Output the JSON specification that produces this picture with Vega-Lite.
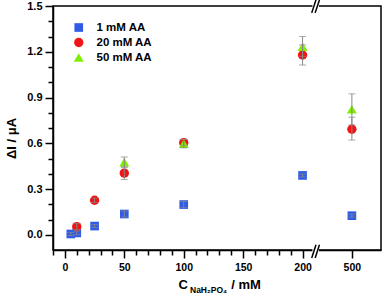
{
  "$schema": "https://vega.github.io/schema/vega-lite/v6.json",
  "width": 328,
  "height": 244,
  "autosize": "none",
  "padding": {"left": 53, "top": 6, "right": 5, "bottom": 58},
  "background": "white",
  "title": {"text": "NaH₂PO₄", "orient": "bottom", "anchor": "start", "frame": "group", "dx": 137, "dy": -5, "offset": 0, "fontSize": 8.5, "fontWeight": "bold", "font": "Liberation Sans", "color": "black"},
  "config": {
    "view": {"stroke": "black", "strokeWidth": 1.5},
    "font": "Liberation Sans",
    "axis": {"grid": false, "domainColor": "black", "domainWidth": 1.5, "tickColor": "black", "tickWidth": 1.5, "labelFont": "Liberation Sans", "labelFontWeight": "bold", "labelColor": "black", "titleColor": "black", "titleFont": "Liberation Sans", "titleFontWeight": "bold", "labelOverlap": false, "labelFlush": false}
  },
  "layer": [
    {
      "data": {"values": [
        {"series": "1 mM AA", "conc": 5, "dI": 0.005, "lo": -0.005, "hi": 0.015},
        {"series": "1 mM AA", "conc": 10, "dI": 0.012, "lo": 0.0, "hi": 0.025},
        {"series": "1 mM AA", "conc": 25, "dI": 0.057, "lo": 0.047, "hi": 0.067},
        {"series": "1 mM AA", "conc": 50, "dI": 0.136, "lo": 0.116, "hi": 0.156},
        {"series": "1 mM AA", "conc": 100, "dI": 0.198, "lo": 0.178, "hi": 0.218},
        {"series": "1 mM AA", "conc": 200, "dI": 0.389, "lo": 0.379, "hi": 0.399},
        {"series": "1 mM AA", "conc": 500, "dI": 0.125, "lo": 0.115, "hi": 0.135},
        {"series": "20 mM AA", "conc": 10, "dI": 0.053, "lo": 0.033, "hi": 0.073},
        {"series": "20 mM AA", "conc": 25, "dI": 0.226, "lo": 0.211, "hi": 0.241},
        {"series": "20 mM AA", "conc": 50, "dI": 0.404, "lo": 0.362, "hi": 0.446},
        {"series": "20 mM AA", "conc": 100, "dI": 0.604, "lo": 0.584, "hi": 0.624},
        {"series": "20 mM AA", "conc": 200, "dI": 1.179, "lo": 1.113, "hi": 1.245},
        {"series": "20 mM AA", "conc": 500, "dI": 0.692, "lo": 0.621, "hi": 0.771},
        {"series": "50 mM AA", "conc": 50, "dI": 0.476, "lo": 0.44, "hi": 0.51},
        {"series": "50 mM AA", "conc": 100, "dI": 0.598, "lo": 0.57, "hi": 0.626},
        {"series": "50 mM AA", "conc": 200, "dI": 1.234, "lo": 1.17, "hi": 1.3},
        {"series": "50 mM AA", "conc": 500, "dI": 0.823, "lo": 0.72, "hi": 0.924}
      ]},
      "transform": [{"calculate": "datum.conc == 500 ? 241.5 : datum.conc", "as": "xp"}],
      "encoding": {
        "x": {"field": "xp", "type": "quantitative",
          "scale": {"domain": [-10, 266], "nice": false, "zero": false},
          "axis": {
            "values": [-10, 0, 10, 20, 30, 40, 50, 60, 70, 80, 90, 100, 110, 120, 130, 140, 150, 160, 170, 180, 190, 200, 241.5],
            "tickCount": 100,
            "labelExpr": "datum.value > 230 ? '500' : ((datum.value >= 0 && datum.value % 50 == 0) ? datum.label : '')",
            "tickSize": {"condition": {"test": "datum.value > 230 || (datum.value >= 0 && datum.value % 50 == 0)", "value": 8}, "value": 5},
            "labelFontSize": 10.5,
            "labelPadding": 4,
            "labelOverlap": false,
            "title": "C\u00a0\u00a0\u00a0\u00a0\u00a0\u00a0\u00a0\u00a0\u00a0\u00a0\u00a0\u00a0/ mM",
            "titleFontSize": 13,
            "titleAlign": "left",
            "titleAnchor": "start",
            "titleBaseline": "top",
            "titleX": 125,
            "titleY": 28
          }
        }
      },
      "layer": [
        {
          "mark": {"type": "point", "filled": true, "opacity": 1, "strokeWidth": 0},
          "encoding": {
            "y": {"field": "dI", "type": "quantitative",
              "scale": {"domain": [-0.1, 1.5], "nice": false, "zero": false},
              "axis": {
                "values": [0, 0.1, 0.2, 0.3, 0.4, 0.5, 0.6, 0.7, 0.8, 0.9, 1.0, 1.1, 1.2, 1.3, 1.4, 1.5],
                "tickCount": 100,
                "labelExpr": "round(datum.value * 10) % 3 == 0 ? format(datum.value, '.1f') : ''",
                "tickSize": {"condition": {"test": "round(datum.value * 10) % 3 == 0", "value": 8}, "value": 5},
                "labelFontSize": 11,
                "labelPadding": 3,
                "labelOverlap": false,
                "title": "ΔI / μA",
                "titleFontSize": 13,
                "titleY": 132,
                "titlePadding": 8
              }
            },
            "color": {"field": "series", "type": "nominal",
              "scale": {"domain": ["1 mM AA", "20 mM AA", "50 mM AA"], "range": ["#2f5be6", "#f01414", "#80ee00"]},
              "legend": {"title": null, "orient": "none", "legendX": 20, "legendY": 15, "labelFontSize": 11.5, "labelFontWeight": "bold", "labelColor": "black", "labelOffset": 12, "rowPadding": 2, "clipHeight": 13, "padding": 0, "symbolStrokeWidth": 0}
            },
            "shape": {"field": "series", "type": "nominal",
              "scale": {"domain": ["1 mM AA", "20 mM AA", "50 mM AA"], "range": ["square", "circle", "triangle-up"]},
              "legend": {"title": null, "orient": "none", "legendX": 20, "legendY": 15, "labelFontSize": 11.5, "labelFontWeight": "bold", "labelColor": "black", "labelOffset": 12, "rowPadding": 2, "clipHeight": 13, "padding": 0, "symbolStrokeWidth": 0}
            },
            "size": {"field": "series", "type": "nominal",
              "scale": {"domain": ["1 mM AA", "20 mM AA", "50 mM AA"], "range": [75, 100, 170]},
              "legend": {"title": null, "orient": "none", "legendX": 20, "legendY": 15, "labelFontSize": 11.5, "labelFontWeight": "bold", "labelColor": "black", "labelOffset": 12, "rowPadding": 2, "clipHeight": 13, "padding": 0, "symbolStrokeWidth": 0}
            }
          }
        },
        {
          "mark": {"type": "errorbar", "ticks": {"size": 7, "thickness": 1, "color": "#888888"}, "rule": {"color": "#888888", "strokeWidth": 1}},
          "encoding": {
            "y": {"field": "lo", "type": "quantitative", "title": "ΔI / μA"},
            "y2": {"field": "hi"}
          }
        }
      ]
    },
    {
      "data": {"values": [{}]},
      "mark": {"type": "rect", "fill": "white", "stroke": null},
      "encoding": {"x": {"datum": 208.3}, "x2": {"datum": 213.8}, "y": {"datum": -0.12}, "y2": {"datum": -0.08}}
    },
    {
      "data": {"values": [{}]},
      "mark": {"type": "rect", "fill": "white", "stroke": null},
      "encoding": {"x": {"datum": 208.3}, "x2": {"datum": 213.8}, "y": {"datum": 1.48}, "y2": {"datum": 1.52}}
    },
    {
      "data": {"values": [{}]},
      "mark": {"type": "rule", "color": "black", "strokeWidth": 1.5},
      "encoding": {"x": {"datum": 207.7}, "x2": {"datum": 211.3}, "y": {"datum": -0.152}, "y2": {"datum": -0.065}}
    },
    {
      "data": {"values": [{}]},
      "mark": {"type": "rule", "color": "black", "strokeWidth": 1.5},
      "encoding": {"x": {"datum": 210.6}, "x2": {"datum": 214.2}, "y": {"datum": -0.152}, "y2": {"datum": -0.065}}
    },
    {
      "data": {"values": [{}]},
      "mark": {"type": "rule", "color": "black", "strokeWidth": 1.5},
      "encoding": {"x": {"datum": 207.7}, "x2": {"datum": 211.3}, "y": {"datum": 1.455}, "y2": {"datum": 1.54}}
    },
    {
      "data": {"values": [{}]},
      "mark": {"type": "rule", "color": "black", "strokeWidth": 1.5},
      "encoding": {"x": {"datum": 210.6}, "x2": {"datum": 214.2}, "y": {"datum": 1.455}, "y2": {"datum": 1.54}}
    }
  ]
}
